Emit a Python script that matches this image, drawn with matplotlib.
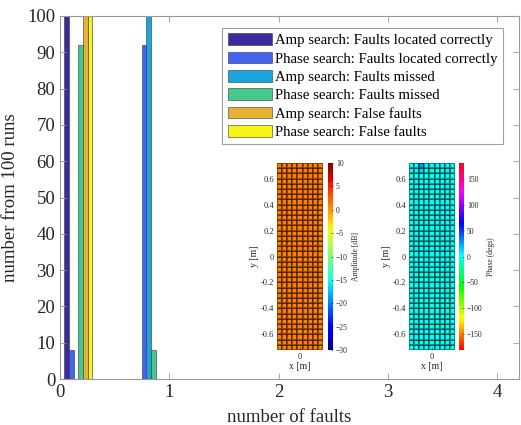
import numpy as np
import matplotlib.pyplot as plt

plt.rcParams['font.family'] = ['Liberation Serif', 'DejaVu Serif']

# bar group centres on the x axis
group_x = [0.167, 0.5, 0.833]

series_names = [
    "Amp search: Faults located correctly",
    "Phase search: Faults located correctly",
    "Amp search: Faults missed",
    "Phase search: Faults missed",
    "Amp search: False faults",
    "Phase search: False faults",
]
amp_correct = [100, 0, 0]
phase_correct = [8, 0, 92]
amp_missed = [0, 0, 100]
phase_missed = [92, 0, 8]
amp_false = [100, 0, 0]
phase_false = [100, 0, 0]

bar_colors = ['#3b2a9e', '#4363f2', '#1aa5dd', '#44c98a', '#e6b432', '#f6f516']

# inset maps: 36 rows x 9 columns, 0.04 m cells
amp_base = 1.0
amp_tweaks = [(3, 4, 0.6), (10, 2, 1.3), (15, 5, 0.7), (22, 1, 1.2),
              (26, 7, 0.8), (31, 3, 1.3), (6, 8, 0.7)]
phase_base = 0.0
phase_tweaks = [(35, 2, 28.0), (34, 2, 12.0), (4, 1, 6.0)]

fig = plt.figure(figsize=(5.21, 4.25), dpi=100)
ax = fig.add_axes([60 / 521, 46 / 425, 459 / 521, 363 / 425])

all_series = [amp_correct, phase_correct, amp_missed, phase_missed, amp_false, phase_false]
w = 0.0426
x = np.array(group_x)
for i, vals in enumerate(all_series):
    ax.bar(x + (i - 2.5) * w, vals, width=w, color=bar_colors[i],
           edgecolor='#333333', linewidth=0.4, label=series_names[i])

ax.set_xlim(0, 4.2)
ax.set_ylim(0, 100)
ax.set_xticks([0, 1, 2, 3, 4])
ax.set_yticks(range(0, 101, 10))
ax.tick_params(direction='in', top=True, right=True, labelsize=13.5,
               length=4, width=0.6, colors='#999999', labelcolor='#262626')
for s in ax.spines.values():
    s.set_color('#999999')
    s.set_linewidth(0.8)
ax.set_xlabel("number of faults", fontsize=13.5, color='#262626', labelpad=6)
ax.set_ylabel("number from 100 runs", fontsize=13.5, color='#262626', labelpad=6)

leg = ax.legend(loc='upper right', bbox_to_anchor=(443 / 459, 351 / 363),
                fontsize=10.6, frameon=True, fancybox=False, handlelength=3.0,
                handleheight=0.85, handletextpad=0.25, labelspacing=0.3,
                borderpad=0.35, borderaxespad=0)
leg.get_frame().set_edgecolor('#888888')
leg.get_frame().set_linewidth(0.8)

amp_map = np.full((36, 9), amp_base)
for r, c, v in amp_tweaks:
    amp_map[r, c] = v
phase_map = np.full((36, 9), phase_base)
for r, c, v in phase_tweaks:
    phase_map[r, c] = v

xe = np.linspace(-0.18, 0.18, 10)
ye = np.linspace(-0.72, 0.72, 37)


def inset(left, cleft, data, cmap, vmin, vmax, cticks, clabel):
    a = fig.add_axes([left / 521, 75 / 425, 46 / 521, 187 / 425])
    m = a.pcolormesh(xe, ye, data, cmap=cmap, vmin=vmin, vmax=vmax,
                     edgecolors=(0, 0, 0, 0.4), linewidth=0.35)
    a.set_xlim(-0.18, 0.18)
    a.set_ylim(-0.72, 0.72)
    a.set_xticks([0])
    a.set_yticks([-0.6, -0.4, -0.2, 0, 0.2, 0.4, 0.6])
    a.set_yticklabels(['-0.6', '-0.4', '-0.2', '0', '0.2', '0.4', '0.6'])
    a.tick_params(direction='in', labelsize=6, length=2, width=0.4,
                  colors='#262626', pad=2)
    for s in a.spines.values():
        s.set_visible(False)
    a.set_xlabel("x [m]", fontsize=7, labelpad=1, color='#262626')
    a.set_ylabel("y [m]", fontsize=7, labelpad=1, color='#262626')
    ca = fig.add_axes([cleft / 521, 75 / 425, 5 / 521, 187 / 425])
    cb = fig.colorbar(m, cax=ca, ticks=cticks)
    cb.outline.set_visible(False)
    ca.tick_params(direction='in', labelsize=5.5, length=1.5, width=0.4,
                   colors='#262626', pad=2)
    cb.set_label(clabel, fontsize=5.5, color='#262626', labelpad=3, rotation=90)
    cb.ax.yaxis.set_label_position('right')


inset(277, 328, amp_map, 'jet', -30, 10, list(range(-30, 11, 5)), "Amplitude [dB]")
inset(409, 459, phase_map, 'hsv', -180, 180, [-150, -100, -50, 0, 50, 100, 150], "Phase (degs)")

fig.savefig("out.png", dpi=100)
